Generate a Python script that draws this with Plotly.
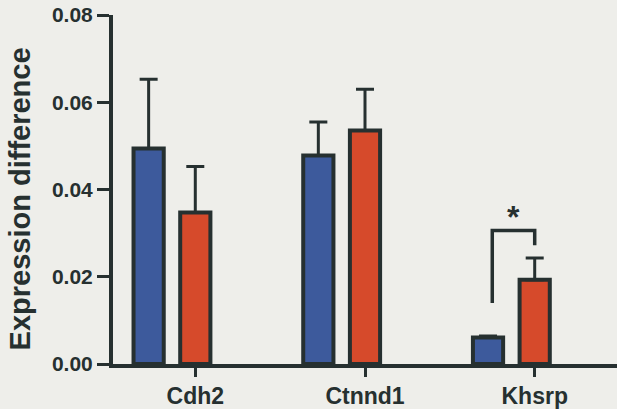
import plotly.graph_objects as go

genes = ["Cdh2", "Ctnnd1", "Khsrp"]
blue_vals = [0.0494, 0.0478, 0.0061]
blue_err = [0.0159, 0.0077, 0.0003]
red_vals = [0.0347, 0.0535, 0.0193]
red_err = [0.0106, 0.0095, 0.0050]
y_ticks = [0.00, 0.02, 0.04, 0.06, 0.08]
y_ticklabels = ["0.00", "0.02", "0.04", "0.06", "0.08"]

group_x = [0, 1, 2]
offset = 0.275
bar_w = 0.178
ink = "#263030"
font_family = "Arial, Liberation Sans, sans-serif"

blue_x = [g - offset for g in group_x]
red_x = list(group_x)

fig = go.Figure()
fig.add_trace(go.Bar(
    x=blue_x, y=blue_vals, width=bar_w,
    marker=dict(color="#3d5a9c", line=dict(color=ink, width=4)),
    error_y=dict(type="data", array=blue_err, arrayminus=[0, 0, 0], symmetric=False,
                 color=ink, thickness=3, width=9),
    showlegend=False,
))
fig.add_trace(go.Bar(
    x=red_x, y=red_vals, width=bar_w,
    marker=dict(color="#d64a2b", line=dict(color=ink, width=4)),
    error_y=dict(type="data", array=red_err, arrayminus=[0, 0, 0], symmetric=False,
                 color=ink, thickness=3, width=9),
    showlegend=False,
))

# significance bracket between the Khsrp bars
k = 2
fig.add_trace(go.Scatter(
    x=[blue_x[k] + 0.025, blue_x[k] + 0.025, red_x[k], red_x[k]],
    y=[0.0140, 0.0306, 0.0306, 0.0272],
    mode="lines", line=dict(color=ink, width=3.5),
    showlegend=False, hoverinfo="skip",
))
fig.add_annotation(
    x=(blue_x[k] + red_x[k]) / 2 + 0.01, y=0.0306, yshift=14,
    text="<b>*</b>", showarrow=False,
    font=dict(family=font_family, size=32, color=ink),
)

# y-axis title
fig.add_annotation(
    xref="paper", yref="paper", x=0, y=0.4716, xshift=-93,
    text="<b>Expression difference</b>", textangle=-90, showarrow=False,
    xanchor="center", yanchor="middle",
    font=dict(family=font_family, size=29, color=ink),
)

fig.update_layout(
    width=617, height=409,
    margin=dict(l=113, r=0, t=15, b=42),
    paper_bgcolor="#eeeeea", plot_bgcolor="#eeeeea",
    barmode="overlay",
    font=dict(family=font_family, color=ink),
)
fig.update_xaxes(
    range=[-0.485, 2.485],
    tickvals=group_x, ticktext=genes,
    ticks="outside", ticklen=9, tickwidth=3, tickcolor=ink,
    tickfont=dict(size=23, weight="bold", color=ink),
    ticklabelstandoff=0,
    showline=True, linewidth=3.5, linecolor=ink,
    showgrid=False, zeroline=False,
)
fig.update_yaxes(
    range=[0, 0.08],
    tickvals=y_ticks, ticktext=y_ticklabels,
    ticks="outside", ticklen=12, tickwidth=3, tickcolor=ink,
    tickfont=dict(size=21, weight="bold", color=ink),
    ticklabelstandoff=0,
    showline=True, linewidth=4, linecolor=ink,
    showgrid=False, zeroline=False,
)

fig.write_html("out.html")
